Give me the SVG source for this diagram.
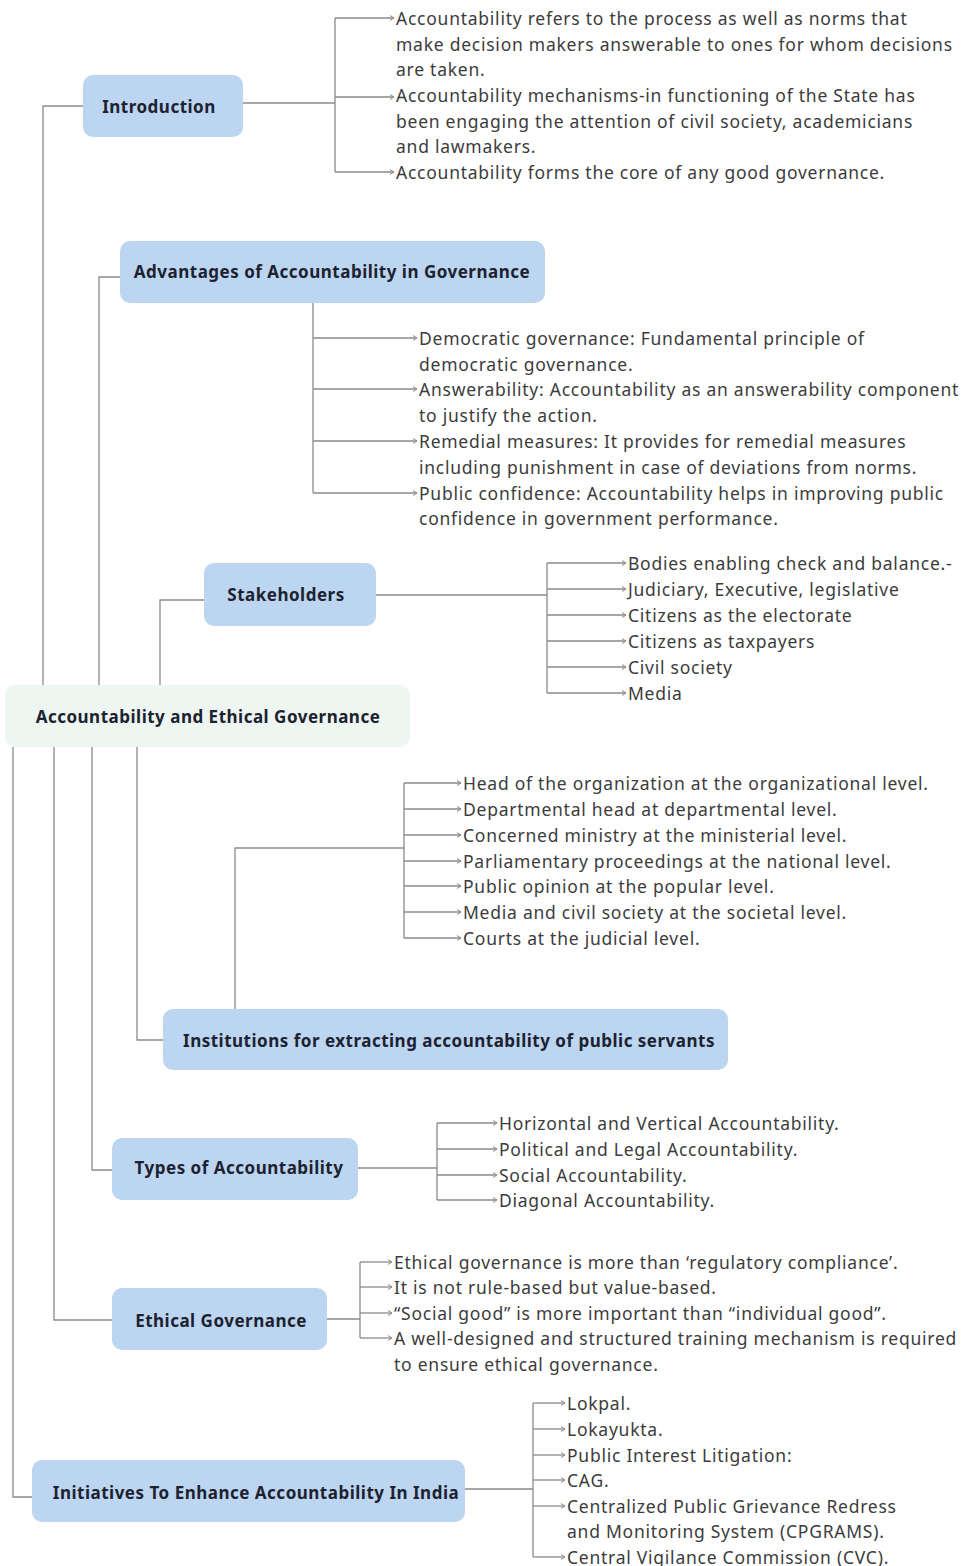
<svg xmlns="http://www.w3.org/2000/svg" width="965" height="1566" viewBox="0 0 965 1566">
<style>
.node{fill:#bcd5f1;}
.root{fill:#eef6f2;}
.nt{font-family:"Noto Sans","Liberation Sans",sans-serif;font-weight:bold;font-size:17px;letter-spacing:0.5px;fill:#1c2230;text-anchor:middle;dominant-baseline:central;}
.lt{font-family:"Noto Sans","Liberation Sans",sans-serif;font-size:17.5px;letter-spacing:0.75px;fill:#3c3c3c;dominant-baseline:central;}
.ln{fill:none;stroke:#8a8a8a;stroke-width:1.3;}
.ar{fill:none;stroke:#8a8a8a;stroke-width:1.3;marker-end:url(#arr);}
</style>
<defs>
<marker id="arr" viewBox="0 0 6 6" refX="5" refY="3" markerWidth="6" markerHeight="6" markerUnits="userSpaceOnUse" orient="auto">
<path d="M1,0.5 L5,3 L1,5.5" fill="none" stroke="#8a8a8a" stroke-width="1"/>
</marker>
</defs>
<rect width="965" height="1566" fill="#ffffff"/>
<g id="connectors">
<path class="ln" d="M43,685 V106 H83"/>
<path class="ln" d="M99,685 V277 H120"/>
<path class="ln" d="M160,685 V600 H204"/>
<path class="ln" d="M137,747 V1040 H163"/>
<path class="ln" d="M92,747 V1170 H112"/>
<path class="ln" d="M54,747 V1320 H112"/>
<path class="ln" d="M13,747 V1497 H32"/>
<path class="ln" d="M243,103 H335 M335,18 V172"/>
<path class="ar" d="M335,18 H394"/>
<path class="ar" d="M335,97 H394"/>
<path class="ar" d="M335,172 H394"/>
<path class="ln" d="M313,303 V493"/>
<path class="ar" d="M313,338 H417"/>
<path class="ar" d="M313,389 H417"/>
<path class="ar" d="M313,441 H417"/>
<path class="ar" d="M313,493 H417"/>
<path class="ln" d="M376,595 H547 M547,563 V693"/>
<path class="ar" d="M547,563 H626"/>
<path class="ar" d="M547,589 H626"/>
<path class="ar" d="M547,615 H626"/>
<path class="ar" d="M547,641 H626"/>
<path class="ar" d="M547,667 H626"/>
<path class="ar" d="M547,693 H626"/>
<path class="ln" d="M235,1009 V848 H404 M404,783 V938"/>
<path class="ar" d="M404,783 H461"/>
<path class="ar" d="M404,809 H461"/>
<path class="ar" d="M404,835 H461"/>
<path class="ar" d="M404,861 H461"/>
<path class="ar" d="M404,886 H461"/>
<path class="ar" d="M404,912 H461"/>
<path class="ar" d="M404,938 H461"/>
<path class="ln" d="M358,1168 H437 M437,1123 V1200"/>
<path class="ar" d="M437,1123 H497"/>
<path class="ar" d="M437,1149 H497"/>
<path class="ar" d="M437,1175 H497"/>
<path class="ar" d="M437,1200 H497"/>
<path class="ln" d="M327,1319 H360 M360,1262 V1338"/>
<path class="ar" d="M360,1262 H392"/>
<path class="ar" d="M360,1287 H392"/>
<path class="ar" d="M360,1313 H392"/>
<path class="ar" d="M360,1338 H392"/>
<path class="ln" d="M465,1489 H533 M533,1403 V1557"/>
<path class="ar" d="M533,1403 H565"/>
<path class="ar" d="M533,1429 H565"/>
<path class="ar" d="M533,1455 H565"/>
<path class="ar" d="M533,1480 H565"/>
<path class="ar" d="M533,1506 H565"/>
<path class="ar" d="M533,1557 H565"/>
</g>
<g id="root">
<rect class="root" x="5" y="685" width="405" height="62" rx="10"/>
<text class="nt" x="208" y="716">Accountability and Ethical Governance</text>
</g>
<g id="introduction">
<rect class="node" x="83" y="75" width="160" height="62" rx="10"/>
<text class="nt" x="159" y="106">Introduction</text>
</g>
<g id="introduction-items">
<text class="lt" x="396" y="18">Accountability refers to the process as well as norms that</text>
<text class="lt" x="396" y="44">make decision makers answerable to ones for whom decisions</text>
<text class="lt" x="396" y="69">are taken.</text>
<text class="lt" x="396" y="95">Accountability mechanisms-in functioning of the State has</text>
<text class="lt" x="396" y="121">been engaging the attention of civil society, academicians</text>
<text class="lt" x="396" y="146">and lawmakers.</text>
<text class="lt" x="396" y="172">Accountability forms the core of any good governance.</text>
</g>
<g id="advantages">
<rect class="node" x="120" y="241" width="425" height="62" rx="10"/>
<text class="nt" x="332" y="271">Advantages of Accountability in Governance</text>
</g>
<g id="advantages-items">
<text class="lt" x="419" y="338">Democratic governance: Fundamental principle of</text>
<text class="lt" x="419" y="364">democratic governance.</text>
<text class="lt" x="419" y="389">Answerability: Accountability as an answerability component</text>
<text class="lt" x="419" y="415">to justify the action.</text>
<text class="lt" x="419" y="441">Remedial measures: It provides for remedial measures</text>
<text class="lt" x="419" y="467">including punishment in case of deviations from norms.</text>
<text class="lt" x="419" y="493">Public confidence: Accountability helps in improving public</text>
<text class="lt" x="419" y="518">confidence in government performance.</text>
</g>
<g id="stakeholders">
<rect class="node" x="204" y="563" width="172" height="63" rx="10"/>
<text class="nt" x="286" y="594">Stakeholders</text>
</g>
<g id="stakeholders-items">
<text class="lt" x="628" y="563">Bodies enabling check and balance.-</text>
<text class="lt" x="628" y="589">Judiciary, Executive, legislative</text>
<text class="lt" x="628" y="615">Citizens as the electorate</text>
<text class="lt" x="628" y="641">Citizens as taxpayers</text>
<text class="lt" x="628" y="667">Civil society</text>
<text class="lt" x="628" y="693">Media</text>
</g>
<g id="institutions">
<rect class="node" x="163" y="1009" width="565" height="61" rx="10"/>
<text class="nt" x="449" y="1040">Institutions for extracting accountability of public servants</text>
</g>
<g id="institutions-items">
<text class="lt" x="463" y="783">Head of the organization at the organizational level.</text>
<text class="lt" x="463" y="809">Departmental head at departmental level.</text>
<text class="lt" x="463" y="835">Concerned ministry at the ministerial level.</text>
<text class="lt" x="463" y="861">Parliamentary proceedings at the national level.</text>
<text class="lt" x="463" y="886">Public opinion at the popular level.</text>
<text class="lt" x="463" y="912">Media and civil society at the societal level.</text>
<text class="lt" x="463" y="938">Courts at the judicial level.</text>
</g>
<g id="types">
<rect class="node" x="112" y="1138" width="246" height="62" rx="10"/>
<text class="nt" x="239" y="1167">Types of Accountability</text>
</g>
<g id="types-items">
<text class="lt" x="499" y="1123">Horizontal and Vertical Accountability.</text>
<text class="lt" x="499" y="1149">Political and Legal Accountability.</text>
<text class="lt" x="499" y="1175">Social Accountability.</text>
<text class="lt" x="499" y="1200">Diagonal Accountability.</text>
</g>
<g id="ethical">
<rect class="node" x="112" y="1288" width="215" height="62" rx="10"/>
<text class="nt" x="221" y="1320">Ethical Governance</text>
</g>
<g id="ethical-items">
<text class="lt" x="394" y="1262">Ethical governance is more than ‘regulatory compliance’.</text>
<text class="lt" x="394" y="1287">It is not rule-based but value-based.</text>
<text class="lt" x="394" y="1313">“Social good” is more important than “individual good”.</text>
<text class="lt" x="394" y="1338">A well-designed and structured training mechanism is required</text>
<text class="lt" x="394" y="1364">to ensure ethical governance.</text>
</g>
<g id="initiatives">
<rect class="node" x="32" y="1460" width="433" height="62" rx="10"/>
<text class="nt" x="256" y="1492">Initiatives To Enhance Accountability In India</text>
</g>
<g id="initiatives-items">
<text class="lt" x="567" y="1403">Lokpal.</text>
<text class="lt" x="567" y="1429">Lokayukta.</text>
<text class="lt" x="567" y="1455">Public Interest Litigation:</text>
<text class="lt" x="567" y="1480">CAG.</text>
<text class="lt" x="567" y="1506">Centralized Public Grievance Redress</text>
<text class="lt" x="567" y="1531">and Monitoring System (CPGRAMS).</text>
<text class="lt" x="567" y="1557">Central Vigilance Commission (CVC).</text>
</g>
</svg>
